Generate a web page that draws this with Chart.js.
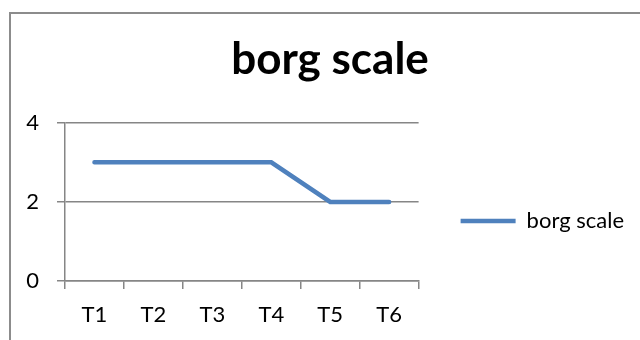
<!DOCTYPE html>
<html>
<head>
<meta charset="utf-8">
<script src="https://cdn.jsdelivr.net/npm/chart.js@4.4.1/dist/chart.umd.min.js"></script>
<style>
  html, body { margin: 0; padding: 0; background: #fff; overflow: hidden; }
  #frame {
    position: absolute; left: 9px; top: 12px; width: 700px; height: 400px;
    border: 2px solid #8c8c8c; box-sizing: border-box;
  }
  #wrap { position: absolute; left: 0; top: 0; width: 640px; height: 340px; }
</style>
</head>
<body>
<div id="frame"></div>
<div id="wrap"><canvas id="borgChart"></canvas></div>
<script>
// dados do gráfico
const categorias = ['T1', 'T2', 'T3', 'T4', 'T5', 'T6'];
const borgScale = [3, 3, 3, 3, 2, 2];
const ticksY = [0, 2, 4];

const cinza = '#868686';

document.addEventListener('DOMContentLoaded', function() {
    const ctx = document.getElementById('borgChart');

    new Chart(ctx.getContext('2d'), {
        type: 'line',
        data: {
            labels: categorias,
            datasets: [{
                label: 'borg scale',
                data: borgScale,
                borderColor: '#4F81BD',
                backgroundColor: '#4F81BD',
                borderWidth: 4.5,
                borderCapStyle: 'round',
                borderJoinStyle: 'miter',
                pointRadius: 0,
                pointHoverRadius: 0,
                tension: 0
            }]
        },
        options: {
            responsive: true,
            maintainAspectRatio: false,
            animation: false,
            devicePixelRatio: 1,
            layout: {
                padding: { left: 26, right: 6, top: 22, bottom: 0 }
            },
            scales: {
                x: {
                    offset: true,
                    afterFit: function(scale) { scale.height = 59; },
                    grid: {
                        offset: true,
                        drawOnChartArea: false,
                        drawTicks: true,
                        tickLength: 8,
                        color: cinza,
                        lineWidth: 1.5
                    },
                    border: { display: true, color: cinza, width: 1.5 },
                    ticks: {
                        color: '#000',
                        padding: 13,
                        font: { family: 'Lato', size: 22 },
                        maxRotation: 0
                    }
                },
                y: {
                    min: ticksY[0],
                    max: ticksY[ticksY.length - 1],
                    afterFit: function(scale) { scale.width = 39; },
                    afterBuildTicks: function(axis) {
                        axis.ticks = ticksY.map(v => ({ value: v }));
                    },
                    grid: {
                        drawTicks: true,
                        tickLength: 8,
                        color: cinza,
                        lineWidth: 1.5
                    },
                    border: { display: true, color: cinza, width: 1.5 },
                    ticks: {
                        color: '#000',
                        padding: 18,
                        font: { family: 'Lato', size: 22 }
                    }
                }
            },
            plugins: {
                title: {
                    display: true,
                    text: 'borg scale',
                    color: '#000',
                    font: { family: 'Lato', size: 44, weight: 'bold' },
                    padding: { top: 11, bottom: 37 }
                },
                legend: {
                    position: 'right',
                    fullSize: false,
                    maxWidth: 300,
                    // título vazio só para descer a legenda
                    title: {
                        display: true,
                        text: '',
                        font: { size: 10 },
                        padding: { top: 26, bottom: 0 }
                    },
                    labels: {
                        color: '#000',
                        font: { family: 'Lato', size: 22 },
                        usePointStyle: true,
                        pointStyle: 'line',
                        pointStyleWidth: 55,
                        padding: 42
                    }
                },
                tooltip: { enabled: false }
            }
        }
    });
});
</script>
</body>
</html>
